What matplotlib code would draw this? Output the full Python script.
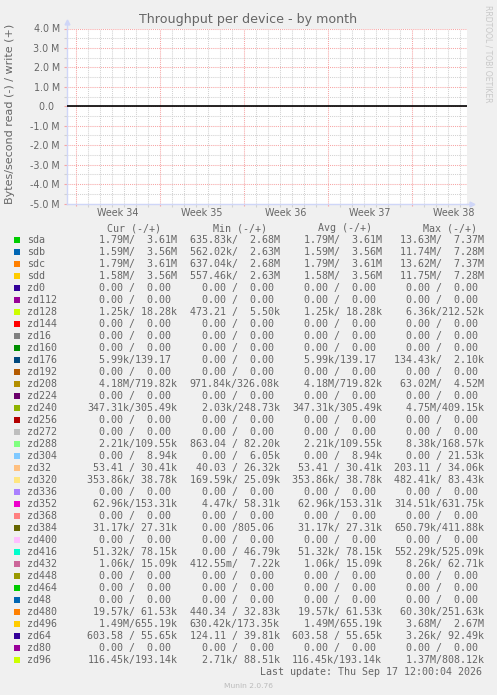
import matplotlib
matplotlib.use("Agg")
import matplotlib.pyplot as plt
from matplotlib.patches import Rectangle
from matplotlib.ticker import MultipleLocator
import numpy as np

# ---------------- data ----------------
title = "Throughput per device - by month"
ylabel = "Bytes/second read (-) / write (+)"
week_numbers = [34, 35, 36, 37, 38]
y_ticks_m = [-5, -4, -3, -2, -1, 0, 1, 2, 3, 4]          # millions
zero_level = 0.0

devices = ["sda", "sdb", "sdc", "sdd", "zd0", "zd112", "zd128", "zd144", "zd16",
           "zd160", "zd176", "zd192", "zd208", "zd224", "zd240", "zd256", "zd272",
           "zd288", "zd304", "zd32", "zd320", "zd336", "zd352", "zd368", "zd384",
           "zd400", "zd416", "zd432", "zd448", "zd464", "zd48", "zd480", "zd496",
           "zd64", "zd80", "zd96"]

colors = ["#00CC00", "#0066B3", "#FF8000", "#FFCC00", "#330099", "#990099", "#CCFF00",
          "#FF0000", "#808080", "#008F00", "#00487D", "#B35A00", "#B38F00", "#6B006B",
          "#8FB300", "#B30000", "#BEBEBE", "#80FF80", "#80C9FF", "#FFC080", "#FFE680",
          "#AA80FF", "#EE00CC", "#FF8080", "#666600", "#FFBFFF", "#00FFCC", "#CC6699",
          "#999900", "#00CC00", "#0066B3", "#FF8000", "#FFCC00", "#330099", "#990099",
          "#CCFF00"]

Z = "0.00"
cur_read  = ["1.79M", "1.59M", "1.79M", "1.58M", Z, Z, "1.25k", Z, Z, Z, "5.99k", Z,
             "4.18M", Z, "347.31k", Z, Z, "2.21k", Z, "53.41", "353.86k", Z, "62.96k", Z,
             "31.17k", Z, "51.32k", "1.06k", Z, Z, Z, "19.57k", "1.49M", "603.58", Z, "116.45k"]
cur_write = ["3.61M", "3.56M", "3.61M", "3.56M", Z, Z, "18.28k", Z, Z, Z, "139.17", Z,
             "719.82k", Z, "305.49k", Z, Z, "109.55k", "8.94k", "30.41k", "38.78k", Z, "153.31k", Z,
             "27.31k", Z, "78.15k", "15.09k", Z, Z, Z, "61.53k", "655.19k", "55.65k", Z, "193.14k"]
min_read  = ["635.83k", "562.02k", "637.04k", "557.46k", Z, Z, "473.21", Z, Z, Z, Z, Z,
             "971.84k", Z, "2.03k", Z, Z, "863.04", Z, "40.03", "169.59k", Z, "4.47k", Z,
             Z, Z, Z, "412.55m", Z, Z, Z, "440.34", "630.42k", "124.11", Z, "2.71k"]
min_write = ["2.68M", "2.63M", "2.68M", "2.63M", Z, Z, "5.50k", Z, Z, Z, Z, Z,
             "326.08k", Z, "248.73k", Z, Z, "82.20k", "6.05k", "26.32k", "25.09k", Z, "58.31k", Z,
             "805.06", Z, "46.79k", "7.22k", Z, Z, Z, "32.83k", "173.35k", "39.81k", Z, "88.51k"]
avg_read  = ["1.79M", "1.59M", "1.79M", "1.58M", Z, Z, "1.25k", Z, Z, Z, "5.99k", Z,
             "4.18M", Z, "347.31k", Z, Z, "2.21k", Z, "53.41", "353.86k", Z, "62.96k", Z,
             "31.17k", Z, "51.32k", "1.06k", Z, Z, Z, "19.57k", "1.49M", "603.58", Z, "116.45k"]
avg_write = ["3.61M", "3.56M", "3.61M", "3.56M", Z, Z, "18.28k", Z, Z, Z, "139.17", Z,
             "719.82k", Z, "305.49k", Z, Z, "109.55k", "8.94k", "30.41k", "38.78k", Z, "153.31k", Z,
             "27.31k", Z, "78.15k", "15.09k", Z, Z, Z, "61.53k", "655.19k", "55.65k", Z, "193.14k"]
max_read  = ["13.63M", "11.74M", "13.62M", "11.75M", Z, Z, "6.36k", Z, Z, Z, "134.43k", Z,
             "63.02M", Z, "4.75M", Z, Z, "8.38k", Z, "203.11", "482.41k", Z, "314.51k", Z,
             "650.79k", Z, "552.29k", "8.26k", Z, Z, Z, "60.30k", "3.68M", "3.26k", Z, "1.37M"]
max_write = ["7.37M", "7.28M", "7.37M", "7.28M", Z, Z, "212.52k", Z, Z, Z, "2.10k", Z,
             "4.52M", Z, "409.15k", Z, Z, "168.57k", "21.53k", "34.06k", "83.43k", Z, "631.75k", Z,
             "411.88k", Z, "525.09k", "62.71k", Z, Z, Z, "251.63k", "2.67M", "92.49k", Z, "808.12k"]

col_headers = ["Cur (-/+)", "Min (-/+)", "Avg (-/+)", "Max (-/+)"]
last_update = "Last update: Thu Sep 17 12:00:04 2026"
footer = "Munin 2.0.76"
watermark = "RRDTOOL / TOBI OETIKER"

# ---------------- styling / layout ----------------
W, H = 497, 695
FONT = "#666666"
BACK = "#F0F0F0"
AXIS = "#CFD6F8"
GRID = "#D2D2D2"
MGRID = "#F7A5A5"
MONO = "DejaVu Sans Mono"

def fx(x):
    return x / W

def fy(y):
    return 1 - y / H

fig = plt.figure(figsize=(W / 100, H / 100), dpi=100, facecolor=BACK)
ax = fig.add_axes([fx(67), fy(203.5), 400 / W, 175 / H], facecolor="white")

span_days = 400 / 12.0
first_monday = 0.75
week_starts = first_monday + 7 * np.arange(len(week_numbers))
week_centers = week_starts + 3.5
day_lines = [first_monday + k for k in range(int(span_days)) if k % 7 != 0
             and first_monday + k < span_days]

ax.set_xlim(0, span_days)
ax.set_ylim(y_ticks_m[0] * 1e6, y_ticks_m[-1] * 1e6)

# y axis
ylabels = [("%.1f M" % v) if v != 0 else "0.0  " for v in y_ticks_m]
ax.set_yticks([v * 1e6 for v in y_ticks_m], labels=ylabels)
ax.yaxis.set_minor_locator(MultipleLocator(0.5e6))
ax.tick_params(axis="y", which="major", length=2, width=0.8, color=MGRID,
               labelsize=6.85, labelcolor=FONT, pad=3.3)
ax.tick_params(axis="y", which="minor", length=2, width=0.8, color=GRID)

# x axis
ax.set_xticks(week_centers, labels=["Week %d" % w for w in week_numbers])
ax.set_xticks(day_lines, minor=True)
ax.tick_params(axis="x", which="major", length=0, labelsize=6.9, labelcolor=FONT, pad=3.0)
ax.tick_params(axis="x", which="minor", length=2, width=0.8, color=GRID)

dot = (0, (1, 1))
ax.grid(which="minor", color=GRID, linestyle=dot, linewidth=0.75)
ax.yaxis.grid(True, which="major", color=MGRID, linestyle=dot, linewidth=0.75)
ax.xaxis.grid(False, which="major")
ax.vlines(week_starts, y_ticks_m[0] * 1e6, y_ticks_m[-1] * 1e6, colors=MGRID,
          linestyles=dot, linewidth=0.75, zorder=1.6)
# small red tick marks below the x axis at week boundaries
ax.vlines(week_starts, -0.017, 0, colors=MGRID, linewidth=0.8,
          transform=ax.get_xaxis_transform(), clip_on=False, zorder=1.6)

# zero line (no data in range)
ax.axhline(zero_level, color="black", linewidth=1.2, zorder=3)

for s in ["top", "right"]:
    ax.spines[s].set_visible(False)
for s in ["left", "bottom"]:
    ax.spines[s].set_color(AXIS)
    ax.spines[s].set_linewidth(1.0)
ax.plot([0, 0], [1, 1.035], transform=ax.transAxes, clip_on=False, color=AXIS, lw=1.0)
ax.plot([0], [1.035], marker="^", ms=3.5, transform=ax.transAxes, clip_on=False,
        color=AXIS, mec=AXIS)
ax.plot([1, 1.012], [0, 0], transform=ax.transAxes, clip_on=False, color=AXIS, lw=1.0)
ax.plot([1.012], [0], marker=">", ms=3.5, transform=ax.transAxes, clip_on=False,
        color=AXIS, mec=AXIS)

# titles
fig.text(fx(248.5), fy(19), title, ha="center", va="center", fontsize=9.1, color=FONT)
fig.text(fx(10), fy(114), ylabel, ha="center", va="center", rotation=90,
         fontsize=8.0, color=FONT)
fig.text(fx(487.7), fy(54), watermark, ha="center", va="center", rotation=270,
         fontsize=5.5, color="#C8C8C8")

# legend table
def fmt(v):
    if v[-1].isalpha():
        return "%6s%s" % (v[:-1], v[-1])
    return "%6s " % v

col_x = [87.3, 189.6, 291.9, 394.2]
head_x = [107.3, 212.7, 317.7, 422.7]
for hx, h in zip(head_x, col_headers):
    fig.text(fx(hx), fy(231.3), h, ha="left", va="baseline", family=MONO,
             fontsize=7.2, color=FONT)

columns = [(cur_read, cur_write), (min_read, min_write),
           (avg_read, avg_write), (max_read, max_write)]
for i, name in enumerate(devices):
    base = 243.3 + 12.0 * i
    fig.patches.append(Rectangle((fx(14), fy(base - 0.3)), 6 / W, 6 / H,
                                 transform=fig.transFigure, facecolor=colors[i],
                                 edgecolor="none"))
    fig.text(fx(26.7), fy(base), name, ha="left", va="baseline", family=MONO,
             fontsize=7.2, color=FONT)
    for cx, (r, w) in zip(col_x, columns):
        fig.text(fx(cx), fy(base), fmt(r[i]) + "/" + fmt(w[i]), ha="left",
                 va="baseline", family=MONO, fontsize=7.2, color=FONT)

fig.text(fx(260.5), fy(675.3), last_update, ha="left", va="baseline", family=MONO,
         fontsize=7.2, color=FONT)
fig.text(fx(248), fy(687.5), footer, ha="center", va="baseline", fontsize=5.4,
         color="#BBBBBB")

fig.savefig("out.png", dpi=100, facecolor=BACK)
